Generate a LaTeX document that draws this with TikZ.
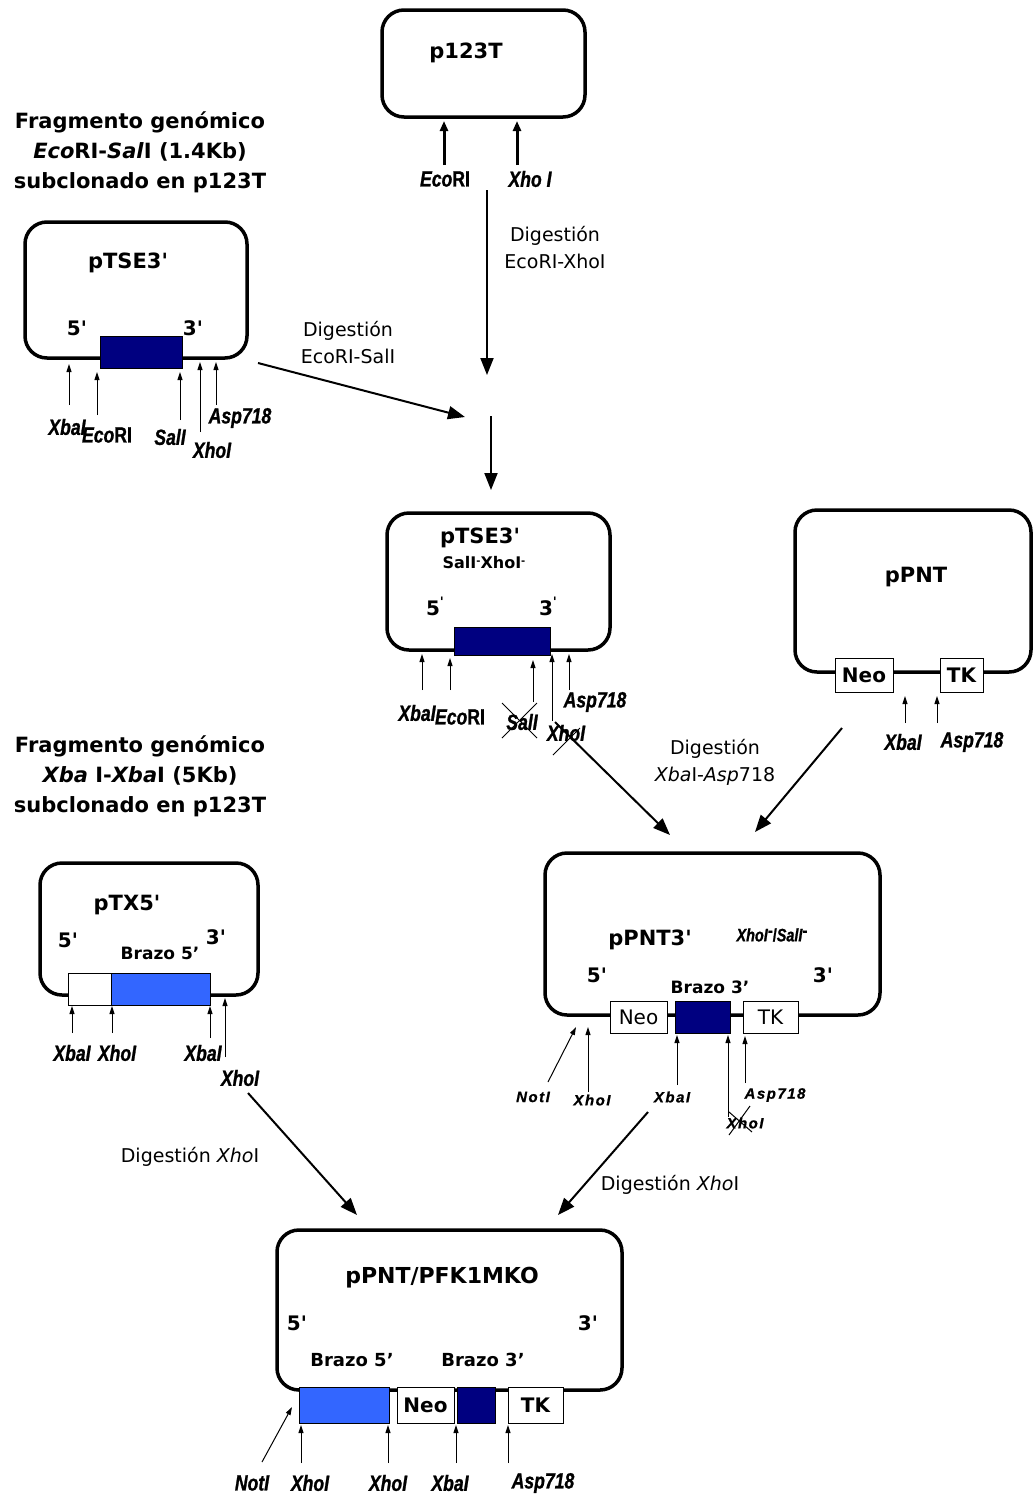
\documentclass[tikz,border=0pt]{standalone}
\usepackage{fontspec}
\setmainfont{DejaVu Sans}
\newfontfamily\sitefont[FakeStretch=0.8,FakeBold=1]{Liberation Sans}
\newfontfamily\sitewide[LetterSpace=10,FakeBold=0.8]{Liberation Sans}
\usetikzlibrary{arrows.meta}
\definecolor{armthree}{RGB}{0,0,128}
\definecolor{armfive}{RGB}{51,102,255}
\newcommand{\enz}[1]{{\sitefont\bfseries\itshape #1}}
\newcommand{\enzup}[1]{{\sitefont\bfseries #1}}
\newcommand{\pr}{\textquotesingle}

\begin{document}
\begin{tikzpicture}[x=1pt,y=-1pt,
  plasmid/.style={draw,line width=3.5pt,rounded corners=22pt},
  title/.style={font=\fontsize{21}{25}\selectfont\bfseries},
  endmark/.style={font=\fontsize{20}{24}\selectfont\bfseries},
  arm/.style={font=\fontsize{17}{20}\selectfont\bfseries},
  note/.style={font=\fontsize{21}{30}\selectfont\bfseries,align=center},
  digest/.style={font=\fontsize{19}{27}\selectfont,align=center},
  enzlabel/.style={font=\fontsize{22}{24}\selectfont,inner sep=1pt},
  enzsmall/.style={font=\fontsize{15}{17}\selectfont\sitewide\bfseries\itshape,inner sep=1pt},
  insert/.style={draw,line width=0.8pt,minimum height=#1,inner sep=0pt},
  cut/.style={line width=1pt,-{Triangle[length=8pt,width=5pt]}},
  bigcut/.style={line width=3pt,-{Triangle[length=10pt,width=8pt]}},
  step arrow/.style={line width=2pt,-{Triangle[length=17pt,width=13pt]}},
  strike/.style={line width=1pt}]
\useasboundingbox (0,0) rectangle (1034,1497);

% ---- p123T
\draw[plasmid] (382,10) rectangle (585,117);
\node[title] (t123) at (466,53) {p123T};
\draw[bigcut] (444,165) -- (444,121);
\draw[bigcut] (517,165) -- (517,121);
\node[enzlabel] (e123a) at (445,179) {\enz{Eco}\enzup{RI}};
\node[enzlabel] (e123b) at (530,179) {\enz{Xho I}};

% ---- notes
\node[note] (noteA) at (140,152) {Fragmento genómico\\\textit{Eco}RI-\textit{Sal}I (1.4Kb)\\subclonado en p123T};
\node[note] (noteB) at (140,776) {Fragmento genómico\\\textit{Xba} I-\textit{Xba}I (5Kb)\\subclonado en p123T};

% ---- pTSE3'
\draw[plasmid] (25,222) rectangle (247,358);
\node[title] (tTSE) at (128,263) {pTSE3\pr};
\node[endmark] (fiveA) at (77,328) {5\pr};
\node[endmark] (threeA) at (193,328) {3\pr};
\node[insert=32pt,minimum width=82pt,fill=armthree] (armA) at (141,352) {};
\draw[cut] (69,405) -- (69,364);
\draw[cut] (97,415) -- (97,372);
\draw[cut] (180,420) -- (180,372);
\draw[cut] (200,432) -- (200,362);
\draw[cut] (216,405) -- (216,362);
\node[enzlabel] (sA1) at (67,427) {\enz{XbaI}};
\node[enzlabel] (sA2) at (107,435) {\enz{Eco}\enzup{RI}};
\node[enzlabel] (sA3) at (170,437) {\enz{SalI}};
\node[enzlabel] (sA4) at (212,450) {\enz{XhoI}};
\node[enzlabel] (sA5) at (240,418) {\enz{Asp718}};

% ---- first digestions
\coordinate (d1a) at (487,190);
\coordinate (d1b) at (487,375);
\coordinate (d2a) at (258,363);
\coordinate (d2b) at (465,417);
\coordinate (d3a) at (491,416);
\coordinate (d3b) at (491,490);
\draw[step arrow] (d1a) -- (d1b);
\draw[step arrow] (d2a) -- (d2b);
\draw[step arrow] (d3a) -- (d3b);
\node[digest] (dg1) at (555,248) {Digestión\\EcoRI-XhoI};
\node[digest] (dg2) at (348,343) {Digestión\\EcoRI-SalI};

% ---- pTSE3' SalI- XhoI-
\draw[plasmid] (387,513) rectangle (610,650);
\node[title] (tTSEb) at (480,538) {pTSE3\pr};
\node[font=\fontsize{16}{18}\selectfont\bfseries] (subB) at (484,563) {SalI\raisebox{4pt}{\fontsize{10}{10}\selectfont-}XhoI\raisebox{4pt}{\fontsize{10}{10}\selectfont-}};
\node[endmark] (fiveB) at (435,606) {5\raisebox{9pt}{\fontsize{13}{13}\selectfont\pr}};
\node[endmark] (threeB) at (548,606) {3\raisebox{9pt}{\fontsize{13}{13}\selectfont\pr}};
\node[insert=28pt,minimum width=96pt,fill=armthree] (armB) at (502,641) {};
\draw[cut] (422,690) -- (422,654);
\draw[cut] (450,690) -- (450,658);
\draw[cut] (533,702) -- (533,660);
\draw[cut] (552,721) -- (552,654);
\draw[cut] (569,690) -- (569,654);
\node[enzlabel] (sB1) at (417,713) {\enz{XbaI}};
\node[enzlabel] (sB2) at (460,717) {\enz{Eco}\enzup{RI}};
\node[enzlabel] (sB3) at (522,722) {\enz{SalI}};
\node[enzlabel] (sB4) at (566,733) {\enz{XhoI}};
\node[enzlabel] (sB5) at (595,702) {\enz{Asp718}};
\draw[strike] (502,703) -- (537,738);
\draw[strike] (502,738) -- (537,703);
\draw[strike] (553,755) -- (580,728);

% ---- pPNT
\draw[plasmid] (795,510) rectangle (1031,672);
\node[title] (tPNT) at (916,577) {pPNT};
\node[insert=34pt,minimum width=58pt,fill=white,endmark] (neoA) at (864,675) {Neo};
\node[insert=34pt,minimum width=43pt,fill=white,endmark] (tkA) at (961.5,675) {TK};
\draw[cut] (905,723) -- (905,696);
\draw[cut] (937,723) -- (937,696);
\node[enzlabel] (sC1) at (903,742) {\enz{XbaI}};
\node[enzlabel] (sC2) at (972,742) {\enz{Asp718}};

% ---- towards pPNT3'
\coordinate (d4a) at (555,722);
\coordinate (d4b) at (670,835);
\coordinate (d5a) at (842,728);
\coordinate (d5b) at (755,832);
\draw[step arrow] (d4a) -- (d4b);
\draw[step arrow] (d5a) -- (d5b);
\node[digest] (dg3) at (715,762) {Digestión\\\textit{Xba}I-\textit{Asp}718};

% ---- pTX5'
\draw[plasmid] (40,863) rectangle (258,995);
\node[title] (tTX) at (127,905) {pTX5\pr};
\node[endmark] (fiveD) at (68,940) {5\pr};
\node[endmark] (threeD) at (216,937) {3\pr};
\node[arm] (brD) at (160,953) {Brazo 5’};
\node[insert=32pt,minimum width=43pt,fill=white] (blankD) at (89.5,989) {};
\node[insert=32pt,minimum width=99pt,fill=armfive] (armD) at (160.5,989) {};
\draw[cut] (72,1033) -- (72,1006);
\draw[cut] (112,1033) -- (112,1006);
\draw[cut] (210,1038) -- (210,1006);
\draw[cut] (225,1057) -- (225,998);
\node[enzlabel] (sD1) at (72,1053) {\enz{XbaI}};
\node[enzlabel] (sD2) at (117,1053) {\enz{XhoI}};
\node[enzlabel] (sD3) at (203,1053) {\enz{XbaI}};
\node[enzlabel] (sD4) at (240,1078) {\enz{XhoI}};

% ---- pPNT3'
\draw[plasmid] (545,853) rectangle (880,1015);
\node[title] (tPNTb) at (650,940) {pPNT3\pr};
\node[font=\fontsize{18}{20}\selectfont\sitefont\bfseries] (subE) at (772,935) {\textit{XhoI}\raisebox{5pt}{-}/\textit{SalI}\raisebox{5pt}{-}};
\node[endmark] (fiveE) at (597,975) {5\pr};
\node[endmark] (threeE) at (823,975) {3\pr};
\node[arm] (brE) at (710,987) {Brazo 3’};
\node[insert=32pt,minimum width=57pt,fill=white,font=\fontsize{20}{24}\selectfont] (neoE) at (638.5,1017) {Neo};
\node[insert=32pt,minimum width=55pt,fill=armthree] (armE) at (702.5,1017) {};
\node[insert=32pt,minimum width=55pt,fill=white,font=\fontsize{20}{24}\selectfont] (tkE) at (770.5,1017) {TK};
\draw[cut] (548,1082) -- (576,1027);
\draw[cut] (588,1092) -- (588,1027);
\draw[cut] (677,1085) -- (677,1035);
\draw[cut] (728,1117) -- (728,1035);
\draw[cut] (745,1083) -- (745,1036);
\node[enzsmall] (sE1) at (533,1097) {NotI};
\node[enzsmall] (sE2) at (592,1100) {XhoI};
\node[enzsmall] (sE3) at (672,1097) {XbaI};
\node[enzsmall] (sE4) at (775,1095) {Asp718};
\node[enzsmall] (sE5) at (745,1123) {XhoI};
\draw[strike] (729,1112) -- (752,1132);
\draw[strike] (729,1135) -- (750,1106);

% ---- XhoI digestions
\coordinate (d6a) at (248,1093);
\coordinate (d6b) at (357,1215);
\coordinate (d7a) at (648,1112);
\coordinate (d7b) at (558,1215);
\draw[step arrow] (d6a) -- (d6b);
\draw[step arrow] (d7a) -- (d7b);
\node[digest] (dg4) at (190,1157) {Digestión \textit{Xho}I};
\node[digest] (dg5) at (670,1185) {Digestión \textit{Xho}I};

% ---- pPNT/PFK1MKO
\draw[plasmid] (277,1230) rectangle (622,1390);
\node[title,font=\fontsize{22}{26}\selectfont\bfseries] (tKO) at (442,1278) {pPNT/PFK1MKO};
\node[endmark] (fiveF) at (297,1323) {5\pr};
\node[endmark] (threeF) at (588,1323) {3\pr};
\node[arm,font=\fontsize{18}{21}\selectfont\bfseries] (brF1) at (352,1360) {Brazo 5’};
\node[arm,font=\fontsize{18}{21}\selectfont\bfseries] (brF2) at (483,1360) {Brazo 3’};
\node[insert=36pt,minimum width=90pt,fill=armfive] (armF1) at (344,1405) {};
\node[insert=36pt,minimum width=57pt,fill=white,endmark] (neoF) at (425.5,1405) {Neo};
\node[insert=36pt,minimum width=38pt,fill=armthree] (armF2) at (476,1405) {};
\node[insert=36pt,minimum width=55pt,fill=white,endmark] (tkF) at (535.5,1405) {TK};
\draw[cut] (262,1462) -- (292,1407);
\draw[cut] (301,1463) -- (301,1425);
\draw[cut] (388,1463) -- (388,1425);
\draw[cut] (456,1463) -- (456,1425);
\draw[cut] (508,1463) -- (508,1425);
\node[enzlabel] (sF1) at (252,1483) {\enz{NotI}};
\node[enzlabel] (sF2) at (310,1483) {\enz{XhoI}};
\node[enzlabel] (sF3) at (388,1483) {\enz{XhoI}};
\node[enzlabel] (sF4) at (450,1483) {\enz{XbaI}};
\node[enzlabel] (sF5) at (543,1483) {\enz{Asp718}};
\end{tikzpicture}
\end{document}
